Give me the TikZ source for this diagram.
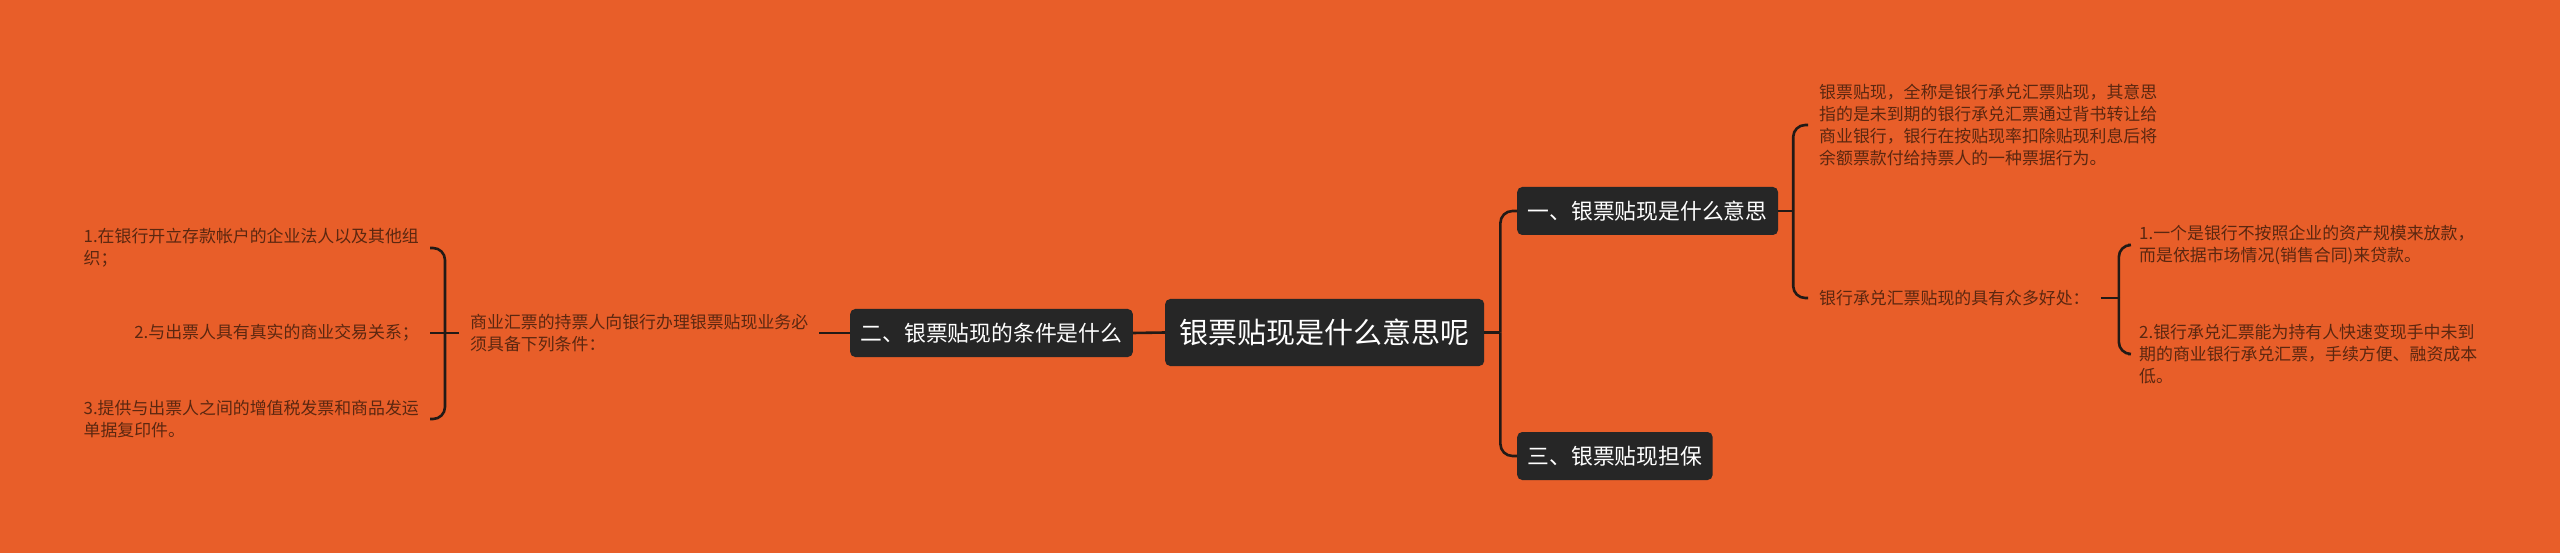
\documentclass[tikz,border=0pt]{standalone}
\usepackage{fontspec}
\setmainfont{Noto Sans CJK SC}
\definecolor{bg}{HTML}{E85E29}
\definecolor{nodec}{HTML}{262626}
\definecolor{linec}{HTML}{221A16}
\definecolor{leafc}{HTML}{5B2710}
\begin{document}
\begin{tikzpicture}[x=1pt,y=-1pt,
  conn/.style={draw=linec, line width=2.6pt},
  central/.style={fill=nodec, rounded corners=5pt, text=white, font=\fontsize{29}{34}\selectfont, inner xsep=14.5pt, minimum height=67pt},
  branch/.style={fill=nodec, rounded corners=5pt, text=white, font=\fontsize{21.8}{26}\selectfont, inner xsep=10.5pt, minimum height=48pt},
  leaf/.style={text=leafc, font=\fontsize{16.9}{22}\selectfont, align=left, inner xsep=11pt, inner ysep=2pt}]
\path[fill=bg] (0,0) rectangle (2560,553);
\useasboundingbox (0,0) rectangle (2560,553);

\node[central, anchor=west] (c) at (1165,332.5) {银票贴现是什么意思呢};
\node[branch, anchor=east] (b2) at (1133,333) {二、银票贴现的条件是什么};
\node[branch, anchor=west] (b1) at (1517,211) {一、银票贴现是什么意思};
\node[branch, anchor=west] (b3) at (1517,456) {三、银票贴现担保};

\node[leaf, anchor=west] (l0) at (459,333) {商业汇票的持票人向银行办理银票贴现业务必\\须具备下列条件：};
\node[leaf, anchor=east] (l1) at (430,248) {1.在银行开立存款帐户的企业法人以及其他组\\织；};
\node[leaf, anchor=east] (l2) at (430,333) {2.与出票人具有真实的商业交易关系；};
\node[leaf, anchor=east] (l3) at (430,419) {3.提供与出票人之间的增值税发票和商品发运\\单据复印件。};

\node[leaf, anchor=west] (t1) at (1808,125) {银票贴现，全称是银行承兑汇票贴现，其意思\\指的是未到期的银行承兑汇票通过背书转让给\\商业银行，银行在按贴现率扣除贴现利息后将\\余额票款付给持票人的一种票据行为。};
\node[leaf, anchor=west] (t2) at (1808,298) {银行承兑汇票贴现的具有众多好处：};
\node[leaf, anchor=west] (t3) at (2128,245) {1.一个是银行不按照企业的资产规模来放款，\\而是依据市场情况(销售合同)来贷款。};
\node[leaf, anchor=west] (t4) at (2128,354) {2.银行承兑汇票能为持有人快速变现手中未到\\期的商业银行承兑汇票，手续方便、融资成本\\低。};

% centre to left branch
\draw[conn] (c.west) -- (b2.east);
\draw[conn] (b2.west) -- (l0.east);
\coordinate (jl) at ([xshift=-14pt]l0.west);
\draw[conn] (l0.west) -- (jl);
\draw[conn, rounded corners=12pt] (jl) |- (l1.east);
\draw[conn] (jl) |- (l2.east);
\draw[conn, rounded corners=12pt] (jl) |- (l3.east);

% centre to right branches
\coordinate (jc) at ([xshift=16pt]c.east);
\draw[conn] (c.east) -- (jc);
\draw[conn, rounded corners=12pt] (jc) |- (b1.west);
\draw[conn, rounded corners=12pt] (jc) |- (b3.west);

\coordinate (j1) at ([xshift=15pt]b1.east);
\draw[conn] (b1.east) -- (j1);
\draw[conn, rounded corners=12pt] (j1) |- (t1.west);
\draw[conn, rounded corners=12pt] (j1) |- (t2.west);

\coordinate (j2) at ([xshift=18pt]t2.east);
\draw[conn] (t2.east) -- (j2);
\draw[conn, rounded corners=12pt] (j2) |- (t3.west);
\draw[conn, rounded corners=12pt] (j2) |- (t4.west);
\end{tikzpicture}
\end{document}
